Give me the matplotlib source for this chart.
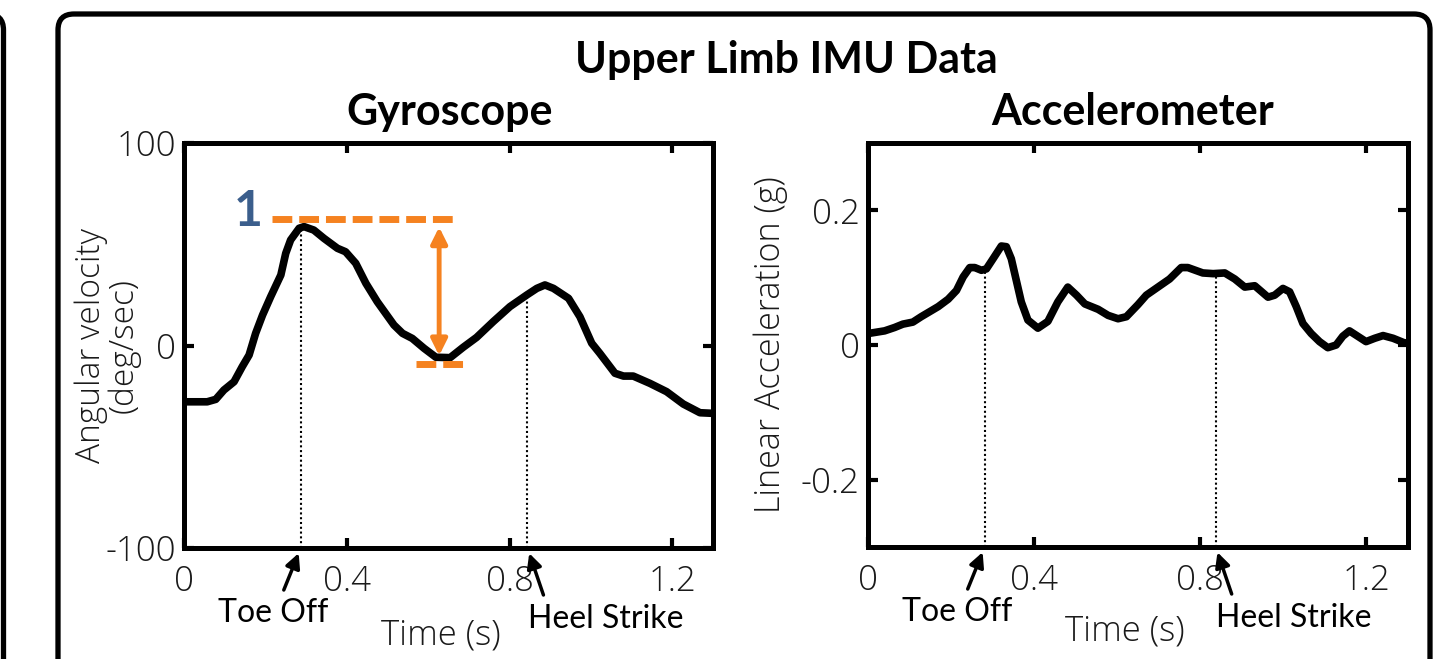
import numpy as np
import matplotlib
matplotlib.use("Agg")
import matplotlib.pyplot as plt
from matplotlib.patches import FancyBboxPatch

# ---------------- data ----------------
gyro_t = [0.0, 0.057, 0.078, 0.098, 0.123, 0.143, 0.16, 0.176, 0.193, 0.213, 0.238, 0.25, 0.262,
          0.283, 0.295, 0.319, 0.344, 0.377, 0.397, 0.422, 0.447, 0.475, 0.516, 0.537, 0.561, 0.59,
          0.619, 0.654, 0.686, 0.719, 0.76, 0.801, 0.842, 0.867, 0.887, 0.908, 0.945, 0.973, 1.002,
          1.022, 1.059, 1.08, 1.104, 1.145, 1.186, 1.227, 1.268, 1.3]
gyro_v = [-27.8, -27.8, -26.6, -22.0, -17.9, -10.5, -4.7, 6.0, 15.0, 24.1, 34.8, 45.5, 52.1,
          57.9, 58.7, 57.0, 52.9, 48.0, 46.3, 40.6, 30.7, 21.6, 10.1, 6.0, 3.5, -1.4,
          -5.8, -6.0, -0.9, 4.0, 11.8, 19.2, 24.9, 28.2, 29.9, 28.2, 23.3, 14.2, 1.1,
          -3.9, -13.7, -15.1, -15.1, -18.7, -22.8, -28.9, -33.2, -33.5]

acc_t = [0.0, 0.04, 0.064, 0.084, 0.108, 0.128, 0.169, 0.193, 0.213, 0.229, 0.245, 0.257, 0.273,
         0.285, 0.301, 0.321, 0.333, 0.345, 0.357, 0.369, 0.385, 0.409, 0.433, 0.457, 0.481, 0.502,
         0.522, 0.554, 0.578, 0.602, 0.622, 0.65, 0.67, 0.698, 0.726, 0.754, 0.77, 0.806, 0.831,
         0.859, 0.883, 0.907, 0.931, 0.963, 0.979, 0.999, 1.015, 1.031, 1.047, 1.067, 1.087, 1.107,
         1.127, 1.143, 1.159, 1.179, 1.199, 1.22, 1.24, 1.264, 1.292, 1.3]
acc_v = [0.017, 0.021, 0.026, 0.031, 0.034, 0.042, 0.057, 0.068, 0.081, 0.101, 0.115, 0.115, 0.111,
         0.113, 0.128, 0.147, 0.146, 0.128, 0.096, 0.064, 0.037, 0.025, 0.035, 0.064, 0.086, 0.074,
         0.061, 0.053, 0.044, 0.039, 0.042, 0.060, 0.074, 0.086, 0.098, 0.115, 0.115, 0.107, 0.106,
         0.107, 0.098, 0.086, 0.088, 0.071, 0.074, 0.084, 0.079, 0.057, 0.032, 0.017, 0.005, -0.004,
         0.000, 0.013, 0.021, 0.013, 0.005, 0.010, 0.014, 0.010, 0.003, 0.003]

gyro_events = [0.287, 0.844]      # toe off, heel strike
acc_events = [0.281, 0.837]
event_labels = ["Toe Off", "Heel Strike"]

x_ticks = [0, 0.4, 0.8, 1.2]
x_ticklabels = ["0", "0.4", "0.8", "1.2"]
gyro_yticks = [-100, 0, 100]
gyro_yticklabels = ["-100", "0", "100"]
acc_yticks = [-0.2, 0, 0.2]
acc_yticklabels = ["-0.2", "0", "0.2"]

gyro_ref_high = 62.5   # dashed reference (peak level)
gyro_ref_low = -9.0    # dashed reference (valley level)

ORANGE = "#F58220"
BLUE = "#3B5E8C"
LIGHT = dict(family=["Open Sans", "DejaVu Sans"], weight=300)
REG = dict(family=["Lato", "DejaVu Sans"], weight="normal")
BOLD = dict(family=["Lato", "DejaVu Sans"], weight="bold")

W, H = 1441, 659
fig = plt.figure(figsize=(W / 100, H / 100), dpi=100)

def ax_rect(x0, y0, x1, y1):
    return [x0 / W, 1 - y1 / H, (x1 - x0) / W, (y1 - y0) / H]

# outer frames
fig.patches.append(FancyBboxPatch((0.58, -0.5), 13.72, 6.45 + 0.5,
                                  boxstyle="round,pad=0,rounding_size=0.16",
                                  transform=fig.dpi_scale_trans, fill=False,
                                  lw=3.8, ec="black", clip_on=False))
fig.patches.append(FancyBboxPatch((-1.0, -0.5), 1.035, 6.45 + 0.5,
                                  boxstyle="round,pad=0,rounding_size=0.16",
                                  transform=fig.dpi_scale_trans, fill=False,
                                  lw=3.8, ec="black", clip_on=False))

ax1 = fig.add_axes(ax_rect(184, 143, 713, 548))
ax2 = fig.add_axes(ax_rect(868, 143, 1408, 547))

def style(ax, yticks, yticklabels, ylim):
    ax.set_xlim(0, 1.3)
    ax.set_ylim(*ylim)
    ax.set_xticks(x_ticks)
    ax.set_xticklabels(x_ticklabels, **LIGHT)
    ax.set_yticks(yticks)
    ax.set_yticklabels(yticklabels, **LIGHT)
    ax.tick_params(direction="in", length=7, width=3, labelsize=25, top=True, right=True,
                   color="black", labelcolor="#1a1a1a")
    ax.tick_params(axis="x", pad=12)
    ax.tick_params(axis="y", pad=6)
    for s in ax.spines.values():
        s.set_linewidth(3.6)

style(ax1, gyro_yticks, gyro_yticklabels, (-100, 100))
style(ax2, acc_yticks, acc_yticklabels, (-0.3, 0.3))

ax1.plot(gyro_t, gyro_v, color="black", lw=5.5, solid_capstyle="round", solid_joinstyle="round", zorder=3)
ax2.plot(acc_t, acc_v, color="black", lw=5.5, solid_capstyle="round", solid_joinstyle="round", zorder=3)

for ax, ts, vs, evs, ymin in [(ax1, gyro_t, gyro_v, gyro_events, -100),
                             (ax2, acc_t, acc_v, acc_events, -0.3)]:
    for i, (ev, lab) in enumerate(zip(evs, event_labels)):
        top = np.interp(ev, ts, vs)
        ax.plot([ev, ev], [ymin, top], color="black", lw=1.5, ls=(0, (1, 1.3)), zorder=2)
        if i == 0:
            tail = (-17, -42)
            txt = (-28, -65)
        else:
            tail = (16, -47)
            txt = (78, -71)
        ax.annotate("", xy=(ev, ymin), xycoords="data",
                    xytext=tail, textcoords="offset pixels",
                    arrowprops=dict(arrowstyle="-|>", lw=2.5, color="black",
                                    mutation_scale=22, shrinkA=0, shrinkB=4),
                    annotation_clip=False)
        ax.annotate(lab, xy=(ev, ymin), xycoords="data", xytext=txt,
                    textcoords="offset pixels", ha="center", va="center",
                    fontsize=23, color="black", annotation_clip=False, **REG)

# orange annotation on gyroscope
ax1.plot([0.217, 0.661], [gyro_ref_high, gyro_ref_high], color=ORANGE, lw=5,
         ls=(0, (2.85, 1.0)), zorder=4)
ax1.plot([0.571, 0.686], [gyro_ref_low, gyro_ref_low], color=ORANGE, lw=5,
         ls=(0, (2.85, 1.0)), zorder=4)
ax1.annotate("", xy=(0.627, 58.5), xytext=(0.627, -5.0),
             arrowprops=dict(arrowstyle="<|-|>", lw=3.5, color=ORANGE,
                             mutation_scale=24, shrinkA=0, shrinkB=0), zorder=4)
ax1.text(0.157, 66, "1", color=BLUE, fontsize=36, ha="center", va="center",
         clip_on=False, **BOLD)

# axis labels
ax1.text(-0.145, 0.5, "Angular velocity\n(deg/sec)", transform=ax1.transAxes, rotation=90,
         ha="center", va="center", multialignment="center", fontsize=24,
         color="#1a1a1a", linespacing=0.95, **LIGHT)
ax2.text(-0.18, 0.5, "Linear Acceleration (g)", transform=ax2.transAxes, rotation=90,
         ha="center", va="center", fontsize=24.5, color="#1a1a1a", **LIGHT)
fig.text(441 / W, 1 - 635 / H, "Time (s)", ha="center", va="center", fontsize=25,
         color="#1a1a1a", **LIGHT)
fig.text(1125 / W, 1 - 631 / H, "Time (s)", ha="center", va="center", fontsize=25,
         color="#1a1a1a", **LIGHT)

# titles
fig.text(786 / W, 1 - 60 / H, "Upper Limb IMU Data", ha="center", va="center",
         fontsize=31, **BOLD)
fig.text(450 / W, 1 - 112 / H, "Gyroscope", ha="center", va="center", fontsize=31, **BOLD)
fig.text(1133 / W, 1 - 112 / H, "Accelerometer", ha="center", va="center", fontsize=31, **BOLD)

fig.savefig("out.png", dpi=100)
